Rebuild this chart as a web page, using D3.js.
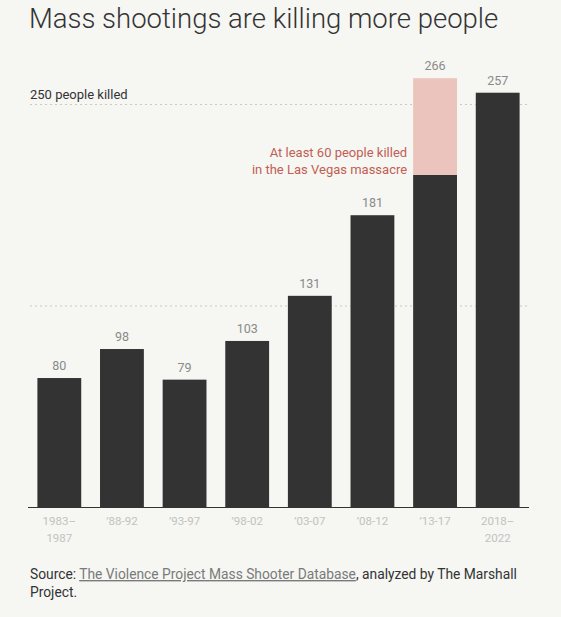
<!DOCTYPE html>
<html>
<head>
<meta charset="utf-8">
<script src="https://cdn.jsdelivr.net/npm/d3@7"></script>
<style>
  html, body { margin: 0; padding: 0; background: #f6f6f3; }
  svg { display: block; font-family: Roboto, sans-serif; }
</style>
</head>
<body>
<svg id="chart" width="561" height="617"></svg>
<script>
// five-year periods, people killed in mass shootings
const periods = [["1983–", "1987"], ["’88-92"], ["’93-97"], ["’98-02"], ["’03-07"], ["’08-12"], ["’13-17"], ["2018–", "2022"]];
const killed = [80, 98, 79, 103, 131, 181, 266, 257];
const lasVegas = [0, 0, 0, 0, 0, 0, 60, 0];
const gridValues = [125, 250];

const svg = d3.select("#chart");

const x = d3.scaleBand()
  .domain(d3.range(periods.length))
  .range([28, 529])
  .paddingInner(0.3)
  .paddingOuter(0.15);

const y = d3.scaleLinear().domain([0, 250]).range([507, 104]);

// title
svg.append("text")
  .attr("x", 29)
  .attr("y", 28)
  .attr("font-size", 27.5)
  .attr("font-weight", 300)
  .attr("fill", "#333")
  .text("Mass shootings are killing more people");

// dashed gridlines
svg.selectAll(".grid")
  .data(gridValues)
  .enter()
  .append("line")
  .attr("class", "grid")
  .attr("x1", 30)
  .attr("x2", 527)
  .attr("y1", (d) => y(d) + 0.5)
  .attr("y2", (d) => y(d) + 0.5)
  .attr("stroke", "#c9c9c6")
  .attr("stroke-dasharray", "2,3");

svg.append("text")
  .attr("x", 30)
  .attr("y", y(250) - 5)
  .attr("font-size", 13)
  .attr("fill", "#333")
  .text("250 people killed");

// bars
const bars = svg.append("g");
bars.selectAll(".bar")
  .data(killed)
  .enter()
  .append("rect")
  .attr("class", "bar")
  .attr("x", (d, i) => x(i))
  .attr("width", x.bandwidth())
  .attr("y", (d, i) => y(d - lasVegas[i]))
  .attr("height", (d, i) => y(0) - y(d - lasVegas[i]))
  .attr("fill", "#333");

bars.selectAll(".lv")
  .data(killed)
  .enter()
  .filter((d, i) => lasVegas[i] > 0)
  .append("rect")
  .attr("class", "lv")
  .attr("x", (d) => x(killed.indexOf(d)))
  .attr("width", x.bandwidth())
  .attr("y", (d) => y(d))
  .attr("height", (d) => y(d - lasVegas[killed.indexOf(d)]) - y(d))
  .attr("fill", "#eac4bd");

// value labels
svg.selectAll(".value")
  .data(killed)
  .enter()
  .append("text")
  .attr("class", "value")
  .attr("x", (d, i) => x(i) + x.bandwidth() / 2)
  .attr("y", (d) => y(d) - 8)
  .attr("text-anchor", "middle")
  .attr("font-size", 12.5)
  .attr("fill", "#8a8a8a")
  .text((d) => d);

// annotation
const lvIndex = lasVegas.findIndex((d) => d > 0);
const note = svg.append("text")
  .attr("text-anchor", "end")
  .attr("font-size", 13)
  .attr("fill", "#c25e52");
note.append("tspan")
  .attr("x", x(lvIndex) - 6)
  .attr("y", 157)
  .text("At least " + lasVegas[lvIndex] + " people killed");
note.append("tspan")
  .attr("x", x(lvIndex) - 6)
  .attr("y", 174)
  .text("in the Las Vegas massacre");

// x axis
svg.append("line")
  .attr("x1", 28)
  .attr("x2", 529)
  .attr("y1", y(0) + 0.5)
  .attr("y2", y(0) + 0.5)
  .attr("stroke", "#333");

const xLabels = svg.selectAll(".xlabel")
  .data(periods)
  .enter()
  .append("text")
  .attr("class", "xlabel")
  .attr("text-anchor", "middle")
  .attr("font-size", 11.5)
  .attr("fill", "#c2c2c0");
xLabels.selectAll("tspan")
  .data((d, i) => d.map((line) => ({ line, i })))
  .enter()
  .append("tspan")
  .attr("x", (d) => x(d.i) + x.bandwidth() / 2)
  .attr("y", (d, j) => 525 + j * 17)
  .text((d) => d.line);

// source
const src = svg.append("text")
  .attr("font-size", 13.8)
  .attr("fill", "#333");
const line1 = src.append("tspan").attr("x", 30).attr("y", 579);
line1.append("tspan").text("Source: ");
line1.append("tspan")
  .attr("fill", "#7a7a7a")
  .attr("text-decoration", "underline")
  .text("The Violence Project Mass Shooter Database");
line1.append("tspan").text(", analyzed by The Marshall");
src.append("tspan").attr("x", 30).attr("y", 597).text("Project.");
</script>
</body>
</html>
